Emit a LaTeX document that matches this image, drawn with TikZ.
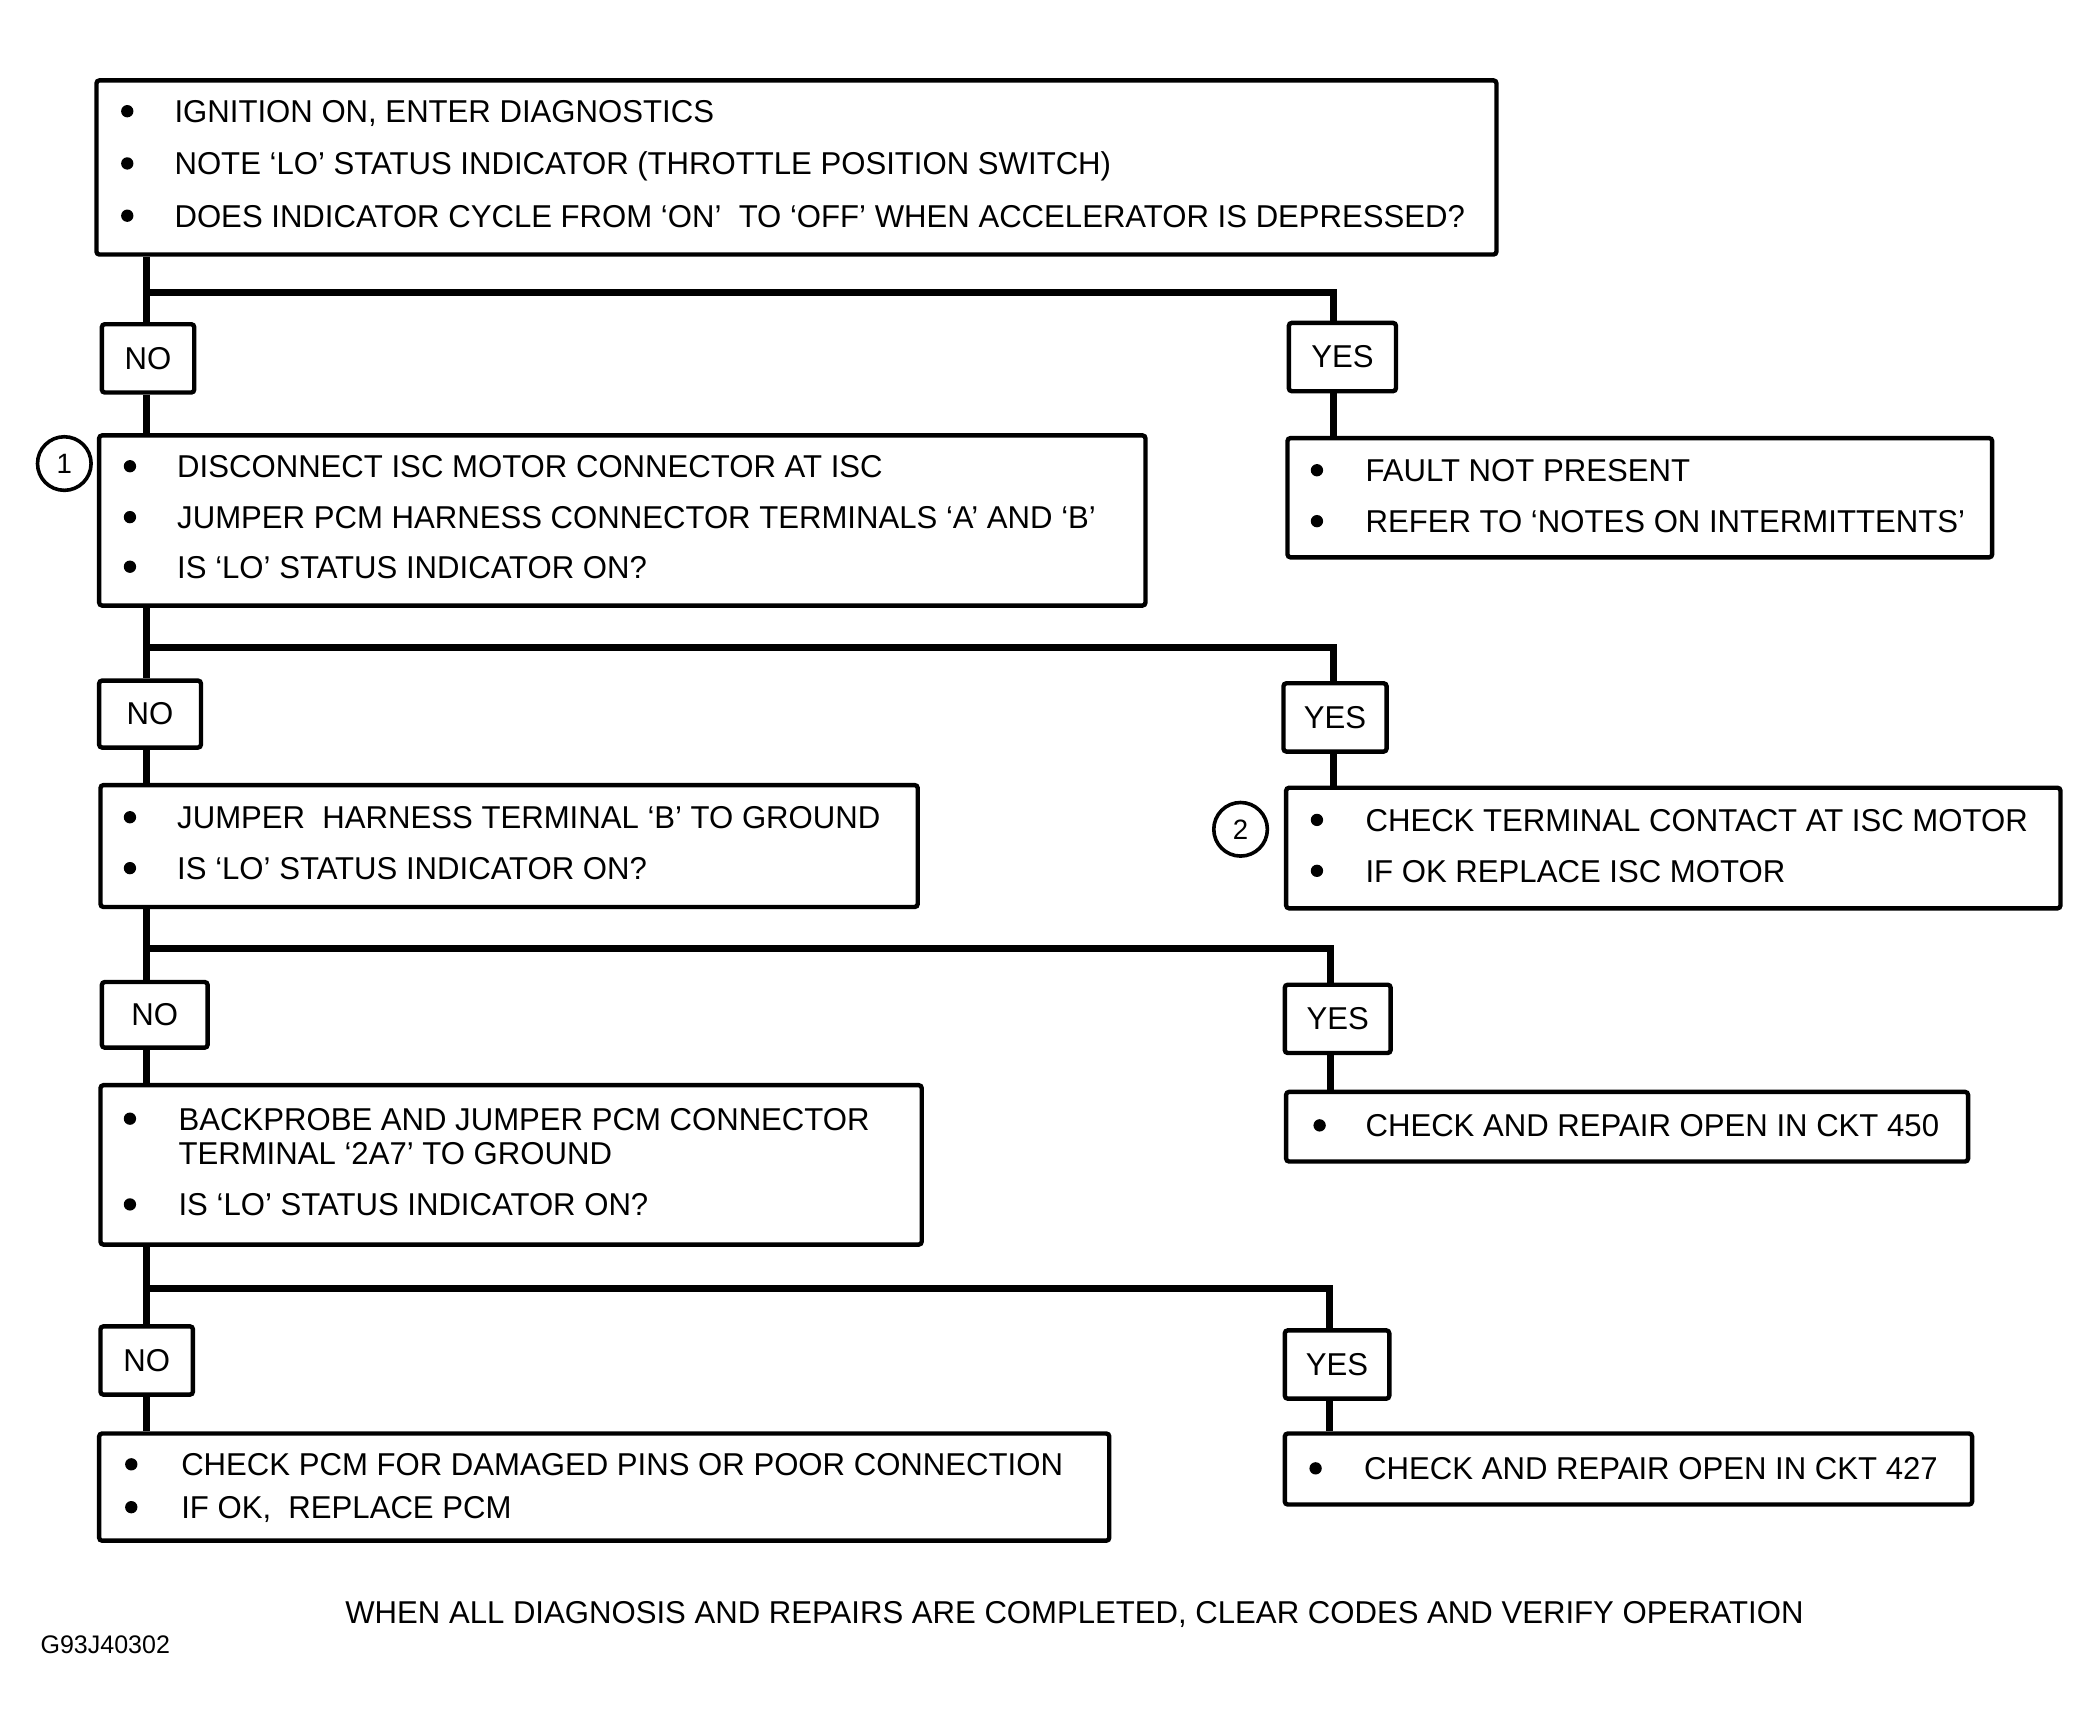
\documentclass[tikz,border=0pt]{standalone}
\usepackage{fontspec}
\setmainfont{Liberation Sans}[FakeStretch=0.985]
\usetikzlibrary{fit}
\begin{document}
\begin{tikzpicture}[x=0.67pt,y=-0.67pt,
  box/.style={draw,line width=2.2pt,rounded corners=1.5pt,inner sep=0pt},
  lbltxt/.style={anchor=center,inner sep=0pt,font=\fontsize{15.8}{18}\selectfont},
  txt/.style={anchor=base west,inner sep=0pt,font=\fontsize{15.8}{18}\selectfont},
  conn/.style={line width=3.5pt},
  num/.style={draw,circle,line width=1.8pt,minimum size=26.8pt,inner sep=0pt,font=\fontsize{14}{16}\selectfont},
  dot/.style={fill=black}]
\useasboundingbox (0,0) rectangle (1566,1289);

% ---------- boxes ----------
\node[box,fit={(72,60) (1117,190)}] (b1) {};
\node[box,fit={(76,242) (145,293)}] (no1) {};
\node[box,fit={(962,241) (1042,292)}] (yes1) {};
\node[box,fit={(74,325) (855,452)}] (b2) {};
\node[box,fit={(961,327) (1487,416)}] (b3) {};
\node[box,fit={(74,508) (150,558)}] (no2) {};
\node[box,fit={(958,510) (1035,561)}] (yes2) {};
\node[box,fit={(75,586) (685,677)}] (b4) {};
\node[box,fit={(960,588) (1538,678)}] (b5) {};
\node[box,fit={(76,733) (155,782)}] (no3) {};
\node[box,fit={(959,735) (1038,786)}] (yes3) {};
\node[box,fit={(75,810) (688,929)}] (b6) {};
\node[box,fit={(960,815) (1469,867)}] (b7) {};
\node[box,fit={(75,990) (144,1041)}] (no4) {};
\node[box,fit={(959,993) (1037,1044)}] (yes4) {};
\node[box,fit={(74,1070) (828,1150)}] (b8) {};
\node[box,fit={(959,1070) (1472,1123)}] (b9) {};

\node[lbltxt] (lno1) at (no1.center) {NO};
\node[lbltxt] (lyes1) at (yes1.center) {YES};
\node[lbltxt] (lno2) at (no2.center) {NO};
\node[lbltxt] (lyes2) at (yes2.center) {YES};
\node[lbltxt] (lno3) at (no3.center) {NO};
\node[lbltxt] (lyes3) at (yes3.center) {YES};
\node[lbltxt] (lno4) at (no4.center) {NO};
\node[lbltxt] (lyes4) at (yes4.center) {YES};

\node[num] (n1) at (48,346) {1};
\node[num] (n2) at (926,619) {2};

% ---------- branch coordinates ----------
\coordinate (j1) at (109,218); \coordinate (k1) at (995,218);
\coordinate (j2) at (109,483); \coordinate (k2) at (995,483);
\coordinate (j3) at (109,708); \coordinate (k3) at (993,708);
\coordinate (j4) at (109,962); \coordinate (k4) at (992,962);

% ---------- connectors ----------
\draw[conn] (b1.south -| j1) -- (j1 |- no1.north);
\draw[conn] (j1) -- (k1) -- (k1 |- yes1.north);
\draw[conn] (j1 |- no1.south) -- (j1 |- b2.north);
\draw[conn] (k1 |- yes1.south) -- (k1 |- b3.north);

\draw[conn] (b2.south -| j2) -- (j2 |- no2.north);
\draw[conn] (j2) -- (k2) -- (k2 |- yes2.north);
\draw[conn] (j2 |- no2.south) -- (j2 |- b4.north);
\draw[conn] (k2 |- yes2.south) -- (k2 |- b5.north);

\draw[conn] (b4.south -| j3) -- (j3 |- no3.north);
\draw[conn] (j3) -- (k3) -- (k3 |- yes3.north);
\draw[conn] (j3 |- no3.south) -- (j3 |- b6.north);
\draw[conn] (k3 |- yes3.south) -- (k3 |- b7.north);

\draw[conn] (b6.south -| j4) -- (j4 |- no4.north);
\draw[conn] (j4) -- (k4) -- (k4 |- yes4.north);
\draw[conn] (j4 |- no4.south) -- (j4 |- b8.north);
\draw[conn] (k4 |- yes4.south) -- (k4 |- b9.north);

% ---------- texts ----------
\fill[dot] (95,83) circle (4.6);  \node[txt] (t1a) at (130,91.5) {IGNITION ON, ENTER DIAGNOSTICS};
\fill[dot] (95,122) circle (4.6); \node[txt] (t1b) at (130,130.5) {NOTE ‘LO’ STATUS INDICATOR (THROTTLE POSITION SWITCH)};
\fill[dot] (95,161) circle (4.6); \node[txt] (t1c) at (130,169.5) {DOES INDICATOR CYCLE FROM ‘ON’~ TO ‘OFF’ WHEN ACCELERATOR IS DEPRESSED?};

\fill[dot] (97,348) circle (4.6); \node[txt] (t2a) at (132,356.5) {DISCONNECT ISC MOTOR CONNECTOR AT ISC};
\fill[dot] (97,386) circle (4.6); \node[txt] (t2b) at (132,394.5) {JUMPER PCM HARNESS CONNECTOR TERMINALS ‘A’ AND ‘B’};
\fill[dot] (97,423) circle (4.6); \node[txt] (t2c) at (132,431.5) {IS ‘LO’ STATUS INDICATOR ON?};

\fill[dot] (983,351) circle (4.6); \node[txt] (t3a) at (1019,359.5) {FAULT NOT PRESENT};
\fill[dot] (983,389) circle (4.6); \node[txt] (t3b) at (1019,397.5) {REFER TO ‘NOTES ON INTERMITTENTS’};

\fill[dot] (97,610) circle (4.6); \node[txt] (t4a) at (132,618.5) {JUMPER~ HARNESS TERMINAL ‘B’ TO GROUND};
\fill[dot] (97,648) circle (4.6); \node[txt] (t4b) at (132,656.5) {IS ‘LO’ STATUS INDICATOR ON?};

\fill[dot] (983,612) circle (4.6); \node[txt] (t5a) at (1019,620.5) {CHECK TERMINAL CONTACT AT ISC MOTOR};
\fill[dot] (983,650) circle (4.6); \node[txt] (t5b) at (1019,658.5) {IF OK REPLACE ISC MOTOR};

\fill[dot] (97,835) circle (4.6); \node[txt] (t6a) at (133,843.5) {BACKPROBE AND JUMPER PCM CONNECTOR};
\node[txt] (t6b) at (133,869.5) {TERMINAL ‘2A7’ TO GROUND};
\fill[dot] (97,899) circle (4.6); \node[txt] (t6c) at (133,907.5) {IS ‘LO’ STATUS INDICATOR ON?};

\fill[dot] (985,840) circle (4.6); \node[txt] (t7a) at (1019,848.5) {CHECK AND REPAIR OPEN IN CKT 450};

\fill[dot] (98,1093) circle (4.6); \node[txt] (t8a) at (135,1101.5) {CHECK PCM FOR DAMAGED PINS OR POOR CONNECTION};
\fill[dot] (98,1125) circle (4.6); \node[txt] (t8b) at (135,1133.5) {IF OK,~ REPLACE PCM};

\fill[dot] (982,1096) circle (4.6); \node[txt] (t9a) at (1018,1104.5) {CHECK AND REPAIR OPEN IN CKT 427};

\node[txt,anchor=base] (foot) at (802,1211.5) {WHEN ALL DIAGNOSIS AND REPAIRS ARE COMPLETED, CLEAR CODES AND VERIFY OPERATION};
\node[txt,font=\fontsize{12.7}{15}\selectfont] (code) at (30,1234) {G93J40302};
\end{tikzpicture}
\end{document}
